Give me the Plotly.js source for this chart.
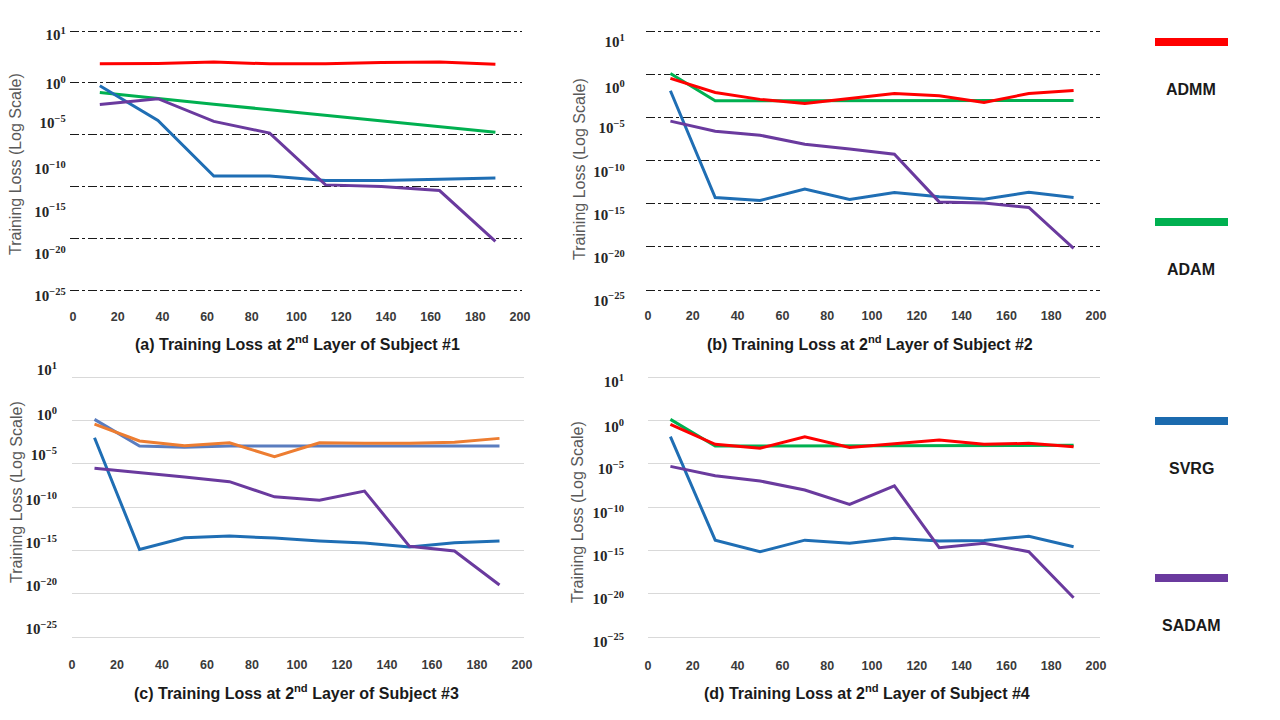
<!DOCTYPE html>
<html>
<head>
<meta charset="utf-8">
<script src="https://cdn.plot.ly/plotly-3.0.1.min.js"></script>
<style>html,body{margin:0;padding:0;background:#fff;}#chart{width:1280px;height:720px;}</style>
</head>
<body>
<div id="chart"></div>
<script>
// ---------------- DATA ----------------
const seriesNames = ['ADMM', 'ADAM', 'SVRG', 'SADAM'];
const xTickVals = [0, 20, 40, 60, 80, 100, 120, 140, 160, 180, 200];
const yTickText = ['10<sup>1</sup>', '10<sup>0</sup>', '10<sup>−5</sup>', '10<sup>−10</sup>',
                   '10<sup>−15</sup>', '10<sup>−20</sup>', '10<sup>−25</sup>'];
const panelTitles = [
  '(a) Training Loss at 2<sup>nd</sup> Layer of Subject #1',
  '(b) Training Loss at 2<sup>nd</sup> Layer of Subject #2',
  '(c) Training Loss at 2<sup>nd</sup> Layer of Subject #3',
  '(d) Training Loss at 2<sup>nd</sup> Layer of Subject #4'
];
const yTitle = 'Training Loss (Log Scale)';

// Panel (a)
const xA = [12, 38, 63, 88, 113, 138, 164, 189];
const admmA  = [68, 72, 100, 68, 68, 91, 100, 63];
const adamA  = [0.115, 0.033, 8.7e-3, 2.5e-3, 7.1e-4, 2.1e-4, 5.6e-5, 1.7e-5];
const svrgA  = [0.51, 2.3e-4, 1.0e-9, 1.0e-9, 3.7e-10, 3.7e-10, 5.0e-10, 6.3e-10];
const sadamA = [8.1e-3, 2.9e-2, 1.9e-4, 1.4e-5, 1.4e-10, 1.0e-10, 4.0e-11, 5.0e-16];

// Panel (b)
const xB = [10, 30, 50, 70, 90, 110, 130, 150, 170, 190];
const admmB  = [0.32, 7.6e-3, 1.2e-3, 4.1e-4, 1.5e-3, 5.8e-3, 3.1e-3, 5.2e-4, 5.8e-3, 1.3e-2];
const adamB  = [1.2, 8.1e-4, 8.1e-4, 8.1e-4, 8.1e-4, 8.1e-4, 8.1e-4, 8.1e-4, 8.1e-4, 8.9e-4];
const svrgB  = [1.2e-2, 5.2e-15, 2.3e-15, 4.8e-14, 3.1e-15, 2.0e-14, 6.2e-15, 3.3e-15, 2.1e-14, 5.2e-15];
const sadamB = [3.6e-6, 2.5e-7, 8.5e-8, 7.8e-9, 2.2e-9, 5.4e-10, 1.6e-15, 1.2e-15, 3.6e-16, 6.5e-21];

// Panel (c)
const xC = [10, 30, 50, 70, 90, 110, 130, 150, 170, 190];
const admmC  = [0.37, 4.1e-3, 1.2e-3, 2.6e-3, 6.3e-5, 2.6e-3, 2.2e-3, 2.2e-3, 2.9e-3, 8.3e-3];
const adamC  = [1.3, 1.1e-3, 7.6e-4, 1.1e-3, 1.1e-3, 1.1e-3, 1.1e-3, 1.1e-3, 1.1e-3, 1.1e-3];
const svrgC  = [9.8e-3, 1.3e-15, 2.8e-14, 4.5e-14, 2.6e-14, 1.2e-14, 6.9e-15, 2.4e-15, 7.6e-15, 1.2e-14];
const sadamC = [2.9e-6, 1.0e-6, 2.9e-7, 8.3e-8, 1.5e-9, 5.9e-10, 6.9e-9, 2.9e-15, 8.3e-16, 1.0e-19];

// Panel (d)
const xD = [10, 30, 50, 70, 90, 110, 130, 150, 170, 190];
const admmD  = [0.35, 1.7e-3, 5.9e-4, 1.3e-2, 7.6e-4, 2.2e-3, 5.4e-3, 1.7e-3, 2.2e-3, 8.9e-4];
const adamD  = [1.3, 1.1e-3, 1.1e-3, 1.1e-3, 1.1e-3, 1.1e-3, 1.1e-3, 1.1e-3, 1.1e-3, 1.3e-3];
const svrgD  = [1.3e-2, 1.5e-14, 6.9e-16, 1.5e-14, 6.5e-15, 2.5e-14, 1.2e-14, 1.4e-14, 4.2e-14, 2.6e-15];
const sadamD = [4.9e-6, 4.1e-7, 1.0e-7, 9.1e-9, 2.0e-10, 2.8e-8, 2.0e-15, 6.5e-15, 6.9e-16, 3.4e-21];

// ---------------- STYLE / GEOMETRY ----------------
const W = 1280, H = 720;
const baseColors = {ADMM: '#FF0000', ADAM: '#00B050', SVRG: '#1F6EB4', SADAM: '#6A3A9E'};
const panelCColors = {ADMM: '#ED7D31', ADAM: '#5A7DBF', SVRG: '#1F6EB4', SADAM: '#6A3A9E'};
const legendColors = {ADMM: '#FF0000', ADAM: '#00B050', SVRG: '#1B6AAE', SADAM: '#6A3A9E'};

const panels = [
  {x: xA, s: {ADMM: admmA, ADAM: adamA, SVRG: svrgA, SADAM: sadamA}, colors: baseColors,
   xPx: [73, 520], xRange: [-1.5, 201],
   gridPx: [31, 290], gridExp: [5, 0, -5, -10, -15, -20], yRange: [-21, 5.6],
   labelExp: [4.6, -0.1, -3.9, -8.3, -12.4, -16.5, -20.6], labelStandoff: 3,
   gridStyle: {gridcolor: '#1a1a1a', griddash: 'dashdot'},
   titlePos: [297, 343], yTitlePos: [16, 164], xLabelY: 316},
  {x: xB, s: {ADMM: admmB, ADAM: adamB, SVRG: svrgB, SADAM: sadamB}, colors: baseColors,
   xPx: [648, 1096], xRange: [-1, 202],
   gridPx: [31, 290], gridExp: [5, 0, -5, -10, -15, -20, -25], yRange: [-26.6, 5.6],
   labelExp: [3.7, -1.6, -6.25, -11.3, -16.3, -21.3, -26.2], labelStandoff: 20,
   gridStyle: {gridcolor: '#1a1a1a', griddash: 'dashdot'},
   titlePos: [870, 343], yTitlePos: [579, 169], xLabelY: 316},
  {x: xC, s: {ADMM: admmC, ADAM: adamC, SVRG: svrgC, SADAM: sadamC}, colors: panelCColors,
   xPx: [72, 522], xRange: [0, 201],
   gridPx: [377, 637], gridExp: [5, 0, -5, -10, -15, -20, -25], yRange: [-25.6, 6.8],
   labelExp: [5.85, 0.6, -4.0, -9.2, -14.15, -19.1, -24.1], labelStandoff: 14,
   gridStyle: {gridcolor: '#d9d9d9', griddash: 'solid'},
   titlePos: [296, 692], yTitlePos: [16, 492], xLabelY: 664},
  {x: xD, s: {ADMM: admmD, ADAM: adamD, SVRG: svrgD, SADAM: sadamD}, colors: baseColors,
   xPx: [648, 1096], xRange: [0, 202],
   gridPx: [377, 637], gridExp: [5, 0, -5, -10, -15, -20, -25], yRange: [-26, 5.6],
   labelExp: [4.4, -0.78, -5.62, -10.7, -15.66, -20.63, -25.5], labelStandoff: 23,
   gridStyle: {gridcolor: '#d9d9d9', griddash: 'solid'},
   titlePos: [867, 692], yTitlePos: [577, 512], xLabelY: 666}
];

const drawOrder = ['ADAM', 'ADMM', 'SVRG', 'SADAM'];
const legendPos = {ADMM: [42, 89], ADAM: [222, 269], SVRG: [421, 468], SADAM: [578, 625]};

const traces = [];
const layout = {
  width: W, height: H,
  margin: {l: 0, r: 0, t: 0, b: 0},
  paper_bgcolor: '#ffffff', plot_bgcolor: 'rgba(0,0,0,0)',
  showlegend: false,
  font: {family: 'Liberation Sans, Arial, sans-serif', color: '#222'},
  shapes: [], annotations: []
};

panels.forEach((p, i) => {
  const n = i + 1;
  const xId = n === 1 ? 'x' : 'x' + n;
  const yId = n === 1 ? 'y' : 'y' + n;
  const labId = 'y' + (n + 4);
  const xName = n === 1 ? 'xaxis' : 'xaxis' + n;
  const yName = n === 1 ? 'yaxis' : 'yaxis' + n;
  const labName = 'yaxis' + (n + 4);

  const ppuX = (p.xPx[1] - p.xPx[0]) / 200;
  const leftPx = p.xPx[0] + p.xRange[0] * ppuX;
  const rightPx = p.xPx[0] + p.xRange[1] * ppuX;
  const gTop = p.gridExp[0], gBot = p.gridExp[p.gridExp.length - 1];
  const ppuY = (p.gridPx[1] - p.gridPx[0]) / (gTop - gBot);
  const topPx = p.gridPx[0] - (p.yRange[1] - gTop) * ppuY;
  const botPx = p.gridPx[1] + (gBot - p.yRange[0]) * ppuY;
  const yDom = [1 - botPx / H, 1 - topPx / H];

  layout[xName] = {
    domain: [leftPx / W, rightPx / W], range: p.xRange, anchor: yId,
    tickmode: 'array', tickvals: xTickVals, ticks: '',
    showgrid: false, zeroline: false, showline: false,
    tickfont: {family: 'Liberation Sans, Arial, sans-serif', size: 12.5, color: '#3a3a3a', weight: 'bold'},
    ticklabelstandoff: Math.round(p.xLabelY - botPx - 9)
  };
  layout[yName] = {
    domain: yDom, type: 'log', range: p.yRange, anchor: xId,
    tickmode: 'array', tickvals: p.gridExp.map(e => Math.pow(10, e)),
    showticklabels: false, ticks: '', showline: false, zeroline: false,
    showgrid: true, gridwidth: 1, gridcolor: p.gridStyle.gridcolor, griddash: p.gridStyle.griddash
  };
  layout[labName] = {
    overlaying: yId, anchor: xId, side: 'left', type: 'log', range: p.yRange,
    tickmode: 'array', tickvals: p.labelExp.map(e => Math.pow(10, e)), ticktext: yTickText,
    showgrid: false, zeroline: false, showline: false, ticks: '',
    ticklabelstandoff: p.labelStandoff,
    tickfont: {family: 'Liberation Serif, Times New Roman, serif', size: 15, color: '#262626', weight: 'bold'}
  };

  drawOrder.forEach(name => {
    traces.push({
      type: 'scatter', mode: 'lines', name: name,
      x: p.x, y: p.s[name], xaxis: xId, yaxis: yId,
      line: {color: p.colors[name], width: 3},
      hoverinfo: 'x+y+name'
    });
  });
  traces.push({type: 'scatter', mode: 'lines', x: [], y: [], xaxis: xId, yaxis: labId,
               showlegend: false, hoverinfo: 'skip'});

  layout.annotations.push({
    xref: 'paper', yref: 'paper', x: p.titlePos[0] / W, y: 1 - p.titlePos[1] / H,
    xanchor: 'center', yanchor: 'middle', showarrow: false,
    text: '<b>' + panelTitles[i] + '</b>',
    font: {family: 'Liberation Sans, Arial, sans-serif', size: 16, color: '#1a1a1a'}
  });
  layout.annotations.push({
    xref: 'paper', yref: 'paper', x: p.yTitlePos[0] / W, y: 1 - p.yTitlePos[1] / H,
    xanchor: 'center', yanchor: 'middle', showarrow: false, textangle: -90,
    text: yTitle,
    font: {family: 'Liberation Sans, Arial, sans-serif', size: 16, color: '#595959'}
  });
});

seriesNames.forEach(name => {
  const [barY, labY] = legendPos[name];
  layout.shapes.push({
    type: 'line', xref: 'paper', yref: 'paper',
    x0: 1155 / W, x1: 1228 / W, y0: 1 - barY / H, y1: 1 - barY / H,
    line: {color: legendColors[name], width: 8}
  });
  layout.annotations.push({
    xref: 'paper', yref: 'paper', x: 1191 / W, y: 1 - labY / H,
    xanchor: 'center', yanchor: 'middle', showarrow: false,
    text: '<b>' + name + '</b>',
    font: {family: 'Liberation Sans, Arial, sans-serif', size: 16, color: '#1a1a1a'}
  });
});

Plotly.newPlot('chart', traces, layout, {displayModeBar: false, staticPlot: true});
</script>
</body>
</html>
